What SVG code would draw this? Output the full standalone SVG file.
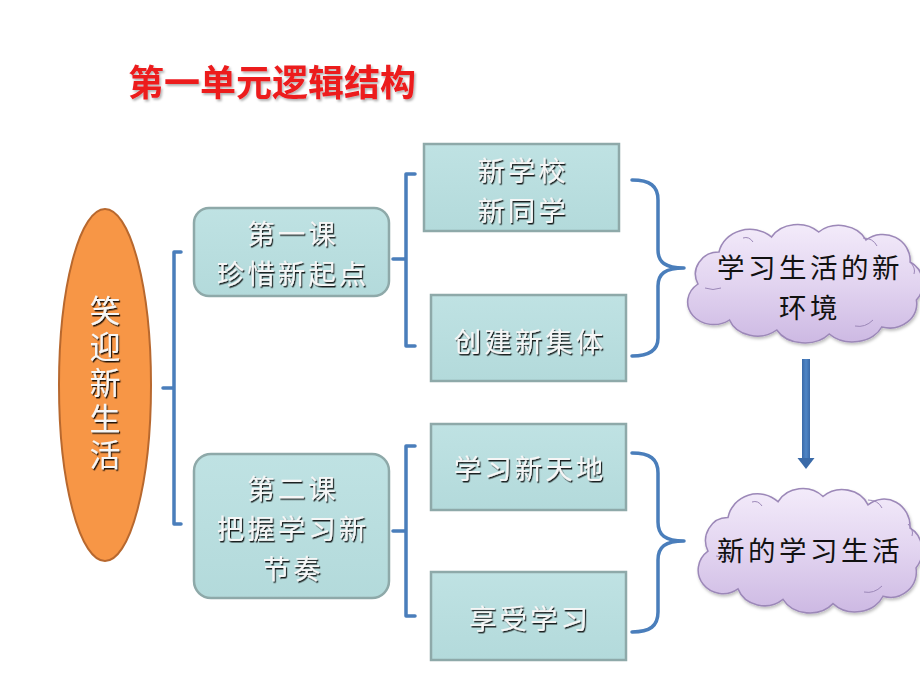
<svg xmlns="http://www.w3.org/2000/svg" width="920" height="690" viewBox="0 0 920 690">
<defs>
  <linearGradient id="boxg" x1="0" y1="0" x2="0" y2="1">
    <stop offset="0" stop-color="#bfe2e3"/>
    <stop offset="1" stop-color="#b3dadb"/>
  </linearGradient>
  <linearGradient id="cloudg" x1="0" y1="0" x2="0" y2="1">
    <stop offset="0" stop-color="#f3ebfa"/>
    <stop offset="0.5" stop-color="#e2d4f0"/>
    <stop offset="1" stop-color="#cdb9e3"/>
  </linearGradient>
  <linearGradient id="arrowg" x1="0" y1="0" x2="1" y2="0">
    <stop offset="0" stop-color="#3a6aa8"/>
    <stop offset="0.5" stop-color="#4f86c6"/>
    <stop offset="1" stop-color="#3a6aa8"/>
  </linearGradient>
  <filter id="emb" x="-10%" y="-10%" width="130%" height="140%">
    <feDropShadow dx="1.2" dy="1.5" stdDeviation="0.5" flood-color="#000" flood-opacity="0.85"/>
  </filter>
  <filter id="tshadow" x="-10%" y="-20%" width="130%" height="150%">
    <feDropShadow dx="1.5" dy="2" stdDeviation="1" flood-color="#000" flood-opacity="0.3"/>
  </filter>
  <filter id="sh" x="-10%" y="-10%" width="130%" height="130%">
    <feDropShadow dx="1" dy="2" stdDeviation="1.5" flood-color="#000" flood-opacity="0.25"/>
  </filter>
  <path id="cloud" d="M 20,62 A 22 22 0 0 1 40,30 A 30 28 0 0 1 90,15 A 28 24 0 0 1 135,10 A 28 24 0 0 1 180,18 A 26 26 0 0 1 222,40 A 22 24 0 0 1 228,78 A 26 24 0 0 1 195,105 A 30 24 0 0 1 145,112 A 30 24 0 0 1 95,108 A 28 24 0 0 1 50,98 A 22 20 0 0 1 20,62 Z"/>
  <style>
    .box { fill: url(#boxg); stroke: #8ea9a9; stroke-width: 2.5; }
    .lbl { font-family: "Noto Sans CJK SC", "Noto Sans", sans-serif; font-size: 27.5px; letter-spacing: 3px; fill: #f6f6f6; text-anchor: middle; dominant-baseline: central; filter: url(#emb); }
    .cl { fill: url(#cloudg); stroke: #9c88b8; stroke-width: 1.5; filter: url(#sh); }
    .cinner { fill: none; stroke: #9c88b8; stroke-width: 1; }
    .ctext { font-family: "Noto Sans CJK SC", "Noto Sans", sans-serif; font-size: 27.5px; letter-spacing: 3.5px; fill: #111; text-anchor: middle; dominant-baseline: central; }
    .br { fill: none; stroke: #4a7ebb; stroke-width: 3.5; stroke-linecap: round; stroke-linejoin: round; }
  </style>
</defs>
<rect width="920" height="690" fill="#ffffff"/>

<text x="128" y="80" font-family="'Noto Sans CJK SC', sans-serif" font-size="36" font-weight="bold" fill="#ec1a1f" dominant-baseline="central" filter="url(#tshadow)">第一单元逻辑结构</text>

<g id="connectors">
  <path class="br" d="M181,252 H174 V524 H181 M163,388 H174"/>
  <path class="br" d="M415,174 H406 V346 H415 M393,259 H406"/>
  <path class="br" d="M415,446 H406 V616 H415 M393,531 H406"/>
  <path class="br" d="M632,180 C650,180 658,186 658,200 L658,250 C658,262 665,268 684,268 C665,268 658,274 658,286 L658,338 C658,350 650,356 632,356"/>
  <path class="br" d="M632,453 C650,453 658,459 658,473 L658,522 C658,535 665,541 684,541 C665,541 658,547 658,560 L658,612 C658,626 650,632 632,632"/>
  <g id="arrow">
    <rect x="802" y="359" width="8" height="100" fill="url(#arrowg)"/>
    <polygon points="797.5,458 814.5,458 806,469" fill="#3a6aa8"/>
  </g>
</g>

<g id="node-root">
  <ellipse cx="105" cy="385" rx="46" ry="176" fill="#f79646" stroke="#b8682e" stroke-width="2"/>
  <text class="lbl" x="105" y="385" style="writing-mode: vertical-rl; font-size: 31px; letter-spacing: 5px; dominant-baseline: auto;">笑迎新生活</text>
</g>

<g id="node-lesson1">
  <rect class="box" x="194" y="208" width="195" height="88" rx="15"/>
  <text class="lbl"><tspan x="293" y="232">第一课</tspan><tspan x="293" y="272">珍惜新起点</tspan></text>
</g>

<g id="node-lesson2">
  <rect class="box" x="194" y="454" width="195" height="144" rx="17"/>
  <text class="lbl"><tspan x="293" y="487">第二课</tspan><tspan x="293" y="527">把握学习新</tspan><tspan x="293" y="567">节奏</tspan></text>
</g>

<g id="node-newschool">
  <rect class="box" x="424" y="144" width="195" height="87"/>
  <text class="lbl"><tspan x="523" y="169">新学校</tspan><tspan x="523" y="209">新同学</tspan></text>
</g>

<g id="node-newclass">
  <rect class="box" x="431" y="295" width="195" height="86"/>
  <text class="lbl" x="530" y="340">创建新集体</text>
</g>

<g id="node-newworld">
  <rect class="box" x="431" y="424" width="195" height="86"/>
  <text class="lbl" x="530" y="467">学习新天地</text>
</g>

<g id="node-enjoy">
  <rect class="box" x="431" y="572" width="195" height="88"/>
  <text class="lbl" x="530" y="617">享受学习</text>
</g>

<g id="node-cloud1">
  <use href="#cloud" class="cl" transform="translate(677,222) scale(1.05,1.0)"/>
  <path class="cinner" d="M705,288 q8,3 16,0 M743,238 q6,-2 10,4 M863,238 q10,0 14,8 M910,262 q6,6 4,12 M855,326 q10,2 18,-6"/>
  <text class="ctext"><tspan x="810" y="266">学习生活的新</tspan><tspan x="810" y="306">环境</tspan></text>
</g>

<g id="node-cloud2">
  <use href="#cloud" class="cl" transform="translate(688,486) scale(1.0,1.05)"/>
  <path class="cinner" d="M716,556 q8,3 16,0 M752,502 q6,-2 10,4 M868,500 q10,0 14,8 M908,524 q6,6 4,12 M864,592 q10,2 18,-6"/>
  <text class="ctext" x="810" y="549">新的学习生活</text>
</g>
</svg>
